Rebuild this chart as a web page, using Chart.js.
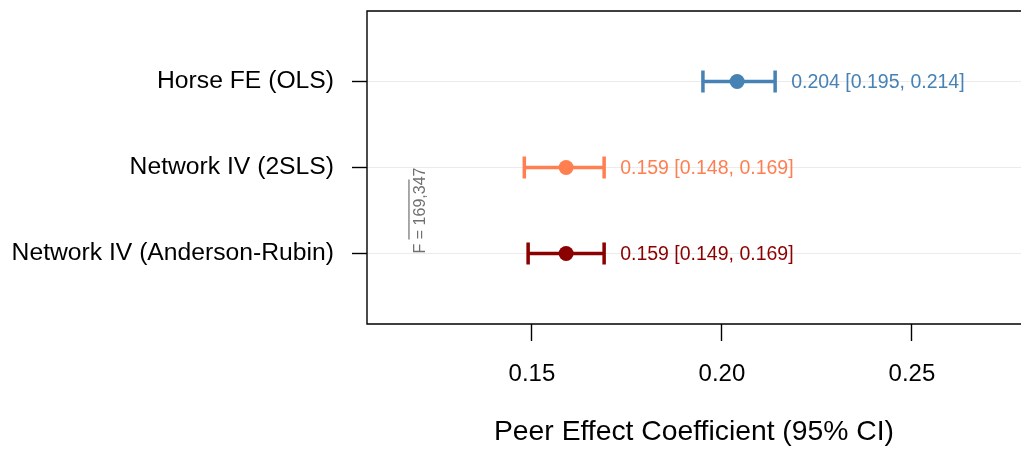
<!DOCTYPE html>
<html>
<head>
<meta charset="utf-8">
<script src="https://cdn.jsdelivr.net/npm/chart.js@4/dist/chart.umd.min.js"></script>
<style>
  html, body { margin: 0; padding: 0; background: #fff; overflow: hidden; }
  canvas { display: block; }
</style>
</head>
<body>
<canvas id="chart" width="1021" height="453"></canvas>
<script>
// model estimates, top row first
const models = ['Horse FE (OLS)', 'Network IV (2SLS)', 'Network IV (Anderson-Rubin)']
const estimates = [0.204, 0.159, 0.159]
const lower = [0.195, 0.148, 0.149]
const upper = [0.214, 0.169, 0.169]
const colors = ['#4682B4', '#FF7F50', '#8B0000']
const xTicks = [0.15, 0.20, 0.25]

// first-stage F note, drawn between the two IV rows
const fNote = 'F = 169,347'
const fNoteX = 0.1208
const fNoteY = 2.5

const FONT = '"Liberation Sans", Arial, sans-serif'

const rows = models.map((m, i) => i + 1)

// chart.js reserves room for edge labels; the panel here runs edge to edge
const noPad = s => { s.paddingTop = 0; s.paddingBottom = 0; s.paddingLeft = 0; s.paddingRight = 0 }

const errorBars = {
  id: 'errorBars',
  beforeDatasetsDraw(chart) {
    const { ctx, scales: { x, y } } = chart
    ctx.save()
    rows.forEach((r, i) => {
      const py = y.getPixelForValue(r)
      const x0 = x.getPixelForValue(lower[i])
      const x1 = x.getPixelForValue(upper[i])
      ctx.strokeStyle = colors[i]
      ctx.lineWidth = 3.5
      ctx.beginPath()
      ctx.moveTo(x0, py); ctx.lineTo(x1, py)
      ctx.moveTo(x0, py - 11); ctx.lineTo(x0, py + 11)
      ctx.moveTo(x1, py - 11); ctx.lineTo(x1, py + 11)
      ctx.stroke()
    })
    ctx.restore()
  },
  afterDatasetsDraw(chart) {
    const { ctx, chartArea: a, scales: { x, y } } = chart
    ctx.save()
    // estimate labels
    ctx.font = '19.5px ' + FONT
    ctx.textBaseline = 'middle'
    ctx.textAlign = 'left'
    rows.forEach((r, i) => {
      const txt = `${estimates[i].toFixed(3)} [${lower[i].toFixed(3)}, ${upper[i].toFixed(3)}]`
      ctx.fillStyle = colors[i]
      ctx.fillText(txt, x.getPixelForValue(upper[i]) + 16, y.getPixelForValue(r) + 1)
    })
    // F note, rotated
    const nx = x.getPixelForValue(fNoteX)
    const ny = y.getPixelForValue(fNoteY)
    ctx.translate(nx, ny)
    ctx.rotate(-Math.PI / 2)
    ctx.font = '16px ' + FONT
    ctx.fillStyle = '#707070'
    ctx.textAlign = 'center'
    ctx.fillText(fNote, 0, 0)
    ctx.strokeStyle = '#707070'
    ctx.lineWidth = 1.2
    ctx.beginPath()
    ctx.moveTo(-29, -12); ctx.lineTo(31, -12)
    ctx.stroke()
    ctx.setTransform(1, 0, 0, 1, 0, 0)
    // panel border: left, top, bottom
    ctx.strokeStyle = '#000'
    ctx.lineWidth = 1.4
    ctx.beginPath()
    ctx.moveTo(a.right + 2, a.top); ctx.lineTo(a.left, a.top)
    ctx.lineTo(a.left, a.bottom); ctx.lineTo(a.right + 2, a.bottom)
    ctx.stroke()
    ctx.restore()
  }
}

new Chart(document.getElementById('chart'), {
  type: 'scatter',
  data: {
    datasets: [{
      data: rows.map((r, i) => ({ x: estimates[i], y: r })),
      pointRadius: 7.5,
      pointBackgroundColor: colors,
      pointBorderWidth: 0,
    }]
  },
  options: {
    responsive: false,
    animation: false,
    layout: { autoPadding: false, padding: { top: 11, right: 0, left: 0, bottom: 0 } },
    plugins: { legend: { display: false }, tooltip: { enabled: false } },
    scales: {
      x: {
        type: 'linear',
        min: 0.1066,
        max: 0.2787,
        afterFit: s => { s.height = 129; noPad(s) },
        afterBuildTicks: s => { s.ticks = xTicks.map(v => ({ value: v })) },
        ticks: {
          callback: v => v.toFixed(2),
          font: { size: 24, family: FONT },
          color: '#000',
          padding: 19,
          maxRotation: 0,
        },
        grid: { drawOnChartArea: false, drawTicks: true, tickLength: 17, tickColor: '#000', tickWidth: 1.4 },
        border: { display: false },
        title: {
          display: true,
          text: 'Peer Effect Coefficient (95% CI)',
          font: { size: 28.3, family: FONT },
          color: '#000',
          padding: { top: 0, bottom: 4 },
        }
      },
      y: {
        type: 'linear',
        reverse: true,
        min: 0.18,
        max: 3.82,
        afterFit: s => { s.width = 367; noPad(s) },
        afterBuildTicks: s => { s.ticks = rows.map(v => ({ value: v })) },
        ticks: {
          callback: v => models[v - 1],
          font: { size: 24.7, family: FONT },
          color: '#000',
          padding: 18,
        },
        grid: { color: '#ebebeb', lineWidth: 1, drawTicks: true, tickLength: 15, tickColor: '#000', tickWidth: 1.4 },
        border: { display: false },
      }
    }
  },
  plugins: [errorBars]
})
</script>
</body>
</html>
